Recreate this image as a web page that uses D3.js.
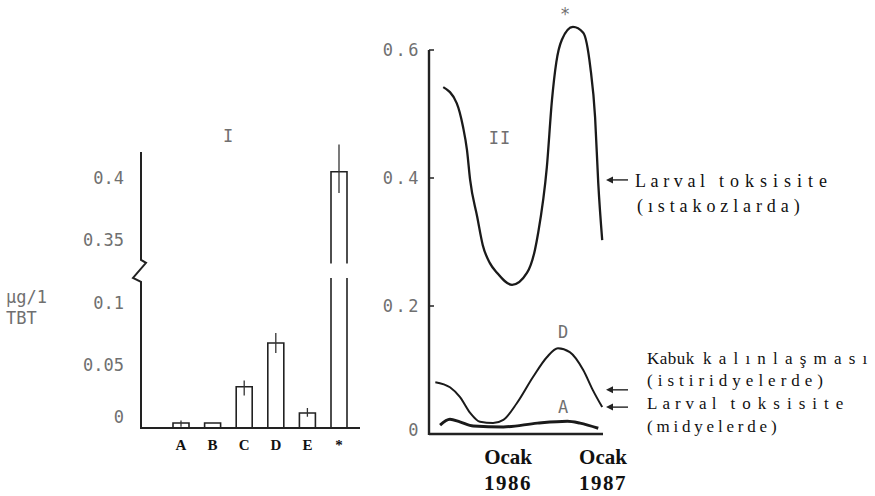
<!DOCTYPE html>
<html><head><meta charset="utf-8">
<script src="https://cdn.jsdelivr.net/npm/d3@7"></script>
<style>
body{margin:0;background:#fff;}
svg{display:block;background:#fff;}
.plot{font-family:"DejaVu Sans Mono",monospace;fill:#707070;font-size:17px;}
.serif{font-family:"Liberation Serif","Times New Roman",serif;fill:#111;white-space:pre;}
</style></head><body>
<svg id="chart" width="875" height="496"></svg>
<script>
// Panel I: TBT levels per site (µg/l)
const sites = ["A", "B", "C", "D", "E", "*"];
const tbt = [0.004, 0.004, 0.033, 0.068, 0.012, 0.405];
const tbtLo = [0.001, null, 0.026, 0.060, 0.009, 0.388];
const tbtHi = [0.006, null, 0.038, 0.076, 0.016, 0.427];
const lowTicks = [0, 0.05, 0.1];
const lowTickLabels = ["0", "0.05", "0.1"];
const highTicks = [0.35, 0.4];
const highTickLabels = ["0.35", "0.4"];

// Panel II: months counted from Ocak 1986
const lobsterMonths = [-8.2, -6.5, -5.7, -5.2, -4.8, -3.9, -3.2, -2.3, -1.4, 0.5, 2.4, 3.4, 3.8, 4.9, 5.55, 6.1, 6.8, 8.2, 9.5, 10.4, 11.0, 11.4, 11.9];
const lobsterVals = [0.542, 0.517, 0.480, 0.444, 0.397, 0.339, 0.295, 0.267, 0.252, 0.233, 0.252, 0.288, 0.314, 0.417, 0.522, 0.581, 0.616, 0.636, 0.627, 0.573, 0.495, 0.392, 0.303];
const oysterMonths = [-9.2, -7.35, -6.1, -4.8, -3.55, -1.9, -0.6, 1.1, 3.15, 4.9, 6.3, 7.8, 9.5, 10.7, 11.9];
const oysterVals = [0.081, 0.073, 0.058, 0.033, 0.019, 0.017, 0.022, 0.048, 0.089, 0.120, 0.134, 0.128, 0.100, 0.069, 0.042];
const musselMonths = [-8.6, -7.35, -6.1, -4.4, -0.6, 3.7, 7.5, 9.1, 11.4];
const musselVals = [0.014, 0.023, 0.019, 0.0125, 0.011, 0.017, 0.020, 0.017, 0.009];
const rightTicks = [0, 0.2, 0.4, 0.6];
const rightTickLabels = ["0", "0.2", "0.4", "0.6"];
const yearMonths = [0, 12];
const yearLabels = ["1986", "1987"];
const arrowVals = [0.397, 0.069, 0.042];

const svg = d3.select('#chart');

// ---------- panel I ----------
const x1 = d3.scalePoint().domain(sites).range([181, 339]);
const yLow = d3.scaleLinear().domain([0, 0.1]).range([428, 303]);
const yHigh = d3.scaleLinear().domain([0.35, 0.4]).range([240, 178]);
const lowMax = 0.117, highMin = 0.334;   // axis break
const yI = v => v <= lowMax ? yLow(v) : yHigh(v);
const barW = 16;

const g1 = svg.append('g');

// y axis with break
g1.append('path')
  .attr('d', `M141,${yHigh(0.421)}V${yHigh(highMin)}l5,3l-13,15l8,4V${yLow(0)}`)
  .attr('fill', 'none').attr('stroke', '#222').attr('stroke-width', 2);
// baseline
g1.append('line')
  .attr('x1', 140).attr('x2', 360).attr('y1', yLow(0)).attr('y2', yLow(0))
  .attr('stroke', '#222').attr('stroke-width', 2);

g1.selectAll('.lt').data(lowTicks).enter().append('text')
  .attr('class', 'plot').attr('text-anchor', 'end')
  .attr('x', 124).attr('y', d => yLow(d) - (d === 0 ? 11 : 0)).attr('dy', '0.35em')
  .text((d, i) => lowTickLabels[i]);
g1.selectAll('.ht').data(highTicks).enter().append('text')
  .attr('class', 'plot').attr('text-anchor', 'end')
  .attr('x', 124).attr('y', d => yHigh(d)).attr('dy', '0.35em')
  .text((d, i) => highTickLabels[i]);

g1.append('text').attr('class', 'plot').attr('x', 6).attr('y', 303).text('µg/1');
g1.append('text').attr('class', 'plot').attr('x', 6).attr('y', 324).text('TBT');
g1.append('text').attr('class', 'plot').attr('x', 228).attr('y', 142).attr('text-anchor', 'middle').text('I');

// bars (outline only)
sites.forEach((s, i) => {
  const cx = x1(s), v = tbt[i];
  const l = cx - barW / 2, r = cx + barW / 2;
  let d;
  if (v <= lowMax) {
    d = `M${l},${yLow(0)}V${yLow(v)}H${r}V${yLow(0)}`;
  } else {
    d = `M${l},${yHigh(0.331)}V${yHigh(v)}H${r}V${yHigh(0.331)}` +
        `M${l},${yLow(0.12)}V${yLow(0)}M${r},${yLow(0.12)}V${yLow(0)}`;
  }
  g1.append('path').attr('d', d).attr('fill', 'none')
    .attr('stroke', '#222').attr('stroke-width', 1.6);
  if (tbtLo[i] != null) {
    g1.append('line').attr('x1', cx).attr('x2', cx)
      .attr('y1', yI(tbtLo[i])).attr('y2', yI(tbtHi[i]))
      .attr('stroke', '#333').attr('stroke-width', 1.3);
  }
  g1.append('text').attr('class', 'serif')
    .attr('x', cx).attr('y', 450).attr('text-anchor', 'middle')
    .attr('font-weight', 'bold').attr('font-size', 15).text(s);
});

// ---------- panel II ----------
const x2 = d3.scaleLinear().domain([-10, 12]).range([429, 603]);
const y2 = d3.scaleLinear().domain([0, 0.6]).range([434, 50]);
const g2 = svg.append('g');

g2.append('line').attr('x1', x2(-10)).attr('x2', x2(-10)).attr('y1', y2(0.6)).attr('y2', y2(0) + 1)
  .attr('stroke', '#222').attr('stroke-width', 2.4);
g2.append('line').attr('x1', x2(-10)).attr('x2', x2(12)).attr('y1', y2(0)).attr('y2', y2(0))
  .attr('stroke', '#222').attr('stroke-width', 2.6);
g2.selectAll('.rtick').data(rightTicks.slice(1)).enter().append('line')
  .attr('x1', x2(-10)).attr('x2', x2(-10) + 5).attr('y1', d => y2(d)).attr('y2', d => y2(d))
  .attr('stroke', '#222').attr('stroke-width', 1.5);
g2.selectAll('.rl').data(rightTicks).enter().append('text')
  .attr('class', 'plot').attr('text-anchor', 'end').attr('letter-spacing', 2.5)
  .attr('x', 421).attr('y', d => y2(d) - (d === 0 ? 4 : 0)).attr('dy', '0.35em')
  .text((d, i) => rightTickLabels[i]);

const line = (ms, vs) => d3.line().curve(d3.curveMonotoneX)
  .x((d, i) => x2(ms[i])).y(d => y2(d))(vs);

g2.append('path').attr('d', line(lobsterMonths, lobsterVals))
  .attr('fill', 'none').attr('stroke', '#1a1a1a').attr('stroke-width', 2.3);
g2.append('path').attr('d', line(oysterMonths, oysterVals))
  .attr('fill', 'none').attr('stroke', '#1a1a1a').attr('stroke-width', 2);
g2.append('path').attr('d', line(musselMonths, musselVals))
  .attr('fill', 'none').attr('stroke', '#1a1a1a').attr('stroke-width', 3);

g2.append('text').attr('class', 'plot').attr('x', 500).attr('y', 144).attr('text-anchor', 'middle')
  .attr('letter-spacing', 1).text('II');
g2.append('text').attr('class', 'plot').attr('x', 565).attr('y', 20).attr('text-anchor', 'middle')
  .attr('font-size', 14).text('*');
g2.append('text').attr('class', 'plot').attr('x', 563).attr('y', 338).attr('text-anchor', 'middle').text('D');
g2.append('text').attr('class', 'plot').attr('x', 563).attr('y', 413).attr('text-anchor', 'middle').text('A');

// x labels
yearMonths.forEach((m, i) => {
  g2.append('text').attr('class', 'serif').attr('font-weight', 'bold').attr('font-size', 21)
    .attr('x', x2(m)).attr('y', 464).attr('text-anchor', 'middle').text('Ocak');
  g2.append('text').attr('class', 'serif').attr('font-weight', 'bold').attr('font-size', 21)
    .attr('letter-spacing', 1.5)
    .attr('x', x2(m)).attr('y', 490).attr('text-anchor', 'middle').text(yearLabels[i]);
});

// arrows
arrowVals.forEach(v => {
  const y = y2(v);
  g2.append('line').attr('x1', 628).attr('x2', 610).attr('y1', y).attr('y2', y)
    .attr('stroke', '#222').attr('stroke-width', 1.4);
  g2.append('path').attr('d', `M606,${y}l7,-3.5v7z`).attr('fill', '#222');
});

// notes
const note = (x, y, parts) => {
  const t = g2.append('text').attr('class', 'serif').attr('x', x).attr('y', y);
  parts.forEach(p => t.append('tspan').attr('letter-spacing', p[1]).attr('font-size', p[2]).text(p[0]));
};
note(635, 187, [['Larval', 4.6, 18], [' ', 5, 18], ['toksisite', 6, 18]]);
note(637, 212, [['(ıstakozlarda)', 4.9, 18]]);
note(647, 364, [['Kabuk', 0.5, 17], [' ', 4, 17], ['kalınlaşması', 7.2, 17]]);
note(647, 386, [['(istiridyelerde)', 5, 17]]);
note(647, 409, [['Larval', 5, 17], [' ', 5, 17], ['toksisite', 7, 17]]);
note(647, 432, [['(midyelerde)', 3.8, 17]]);
</script>
</body></html>
